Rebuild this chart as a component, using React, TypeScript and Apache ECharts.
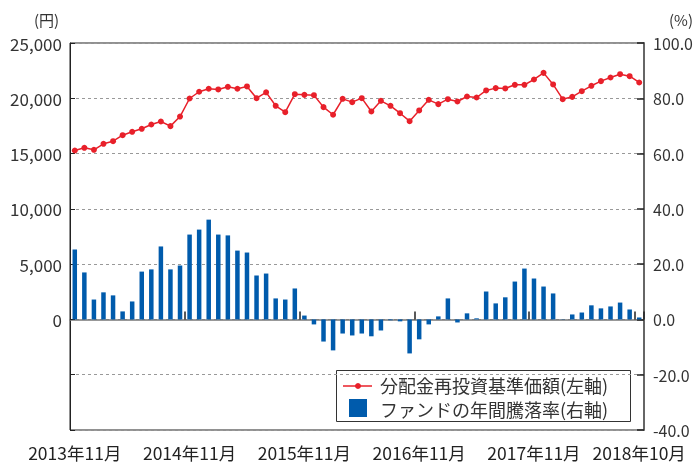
import React, { useEffect, useRef } from "react";
import * as echarts from "echarts";

const startYear = 2013;
const startMonth = 11;
const monthCount = 60;
const categories: string[] = [];
for (let i = 0; i < monthCount; i++) {
  const m0 = startMonth - 1 + i;
  const y = startYear + Math.floor(m0 / 12);
  const m = (m0 % 12) + 1;
  categories.push(`${y}年${m}月`);
}

const labelIndices = [0, 12, 24, 36, 48, 59];
const tickIndices = [12, 24, 36, 48, 59];

const navName = "分配金再投資基準価額(左軸)";
const rateName = "ファンドの年間騰落率(右軸)";

const navValues = [
  15280, 15520, 15340, 15880, 16120, 16660, 16970, 17240, 17630, 17900,
  17480, 18350, 19980, 20590, 20860, 20800, 21040, 20860, 21070, 20010,
  20540, 19320, 18740, 20370, 20310, 20280, 19200, 18510, 19950, 19650,
  20010, 18810, 19770, 19320, 18650, 17930, 18900, 19860, 19470, 19920,
  19710, 20160, 20070, 20710, 20920, 20890, 21220, 21220, 21700, 22300,
  21250, 19920, 20130, 20640, 21130, 21550, 21880, 22180, 22000, 21430,
];

const rateValues = [
  25.3, 17.0, 7.2, 9.8, 8.7, 2.9, 6.5, 17.3, 18.1, 26.4,
  18.1, 19.5, 30.7, 32.5, 36.1, 30.7, 30.4, 24.9, 24.2, 15.9,
  16.6, 7.6, 7.2, 11.2, 1.4, -1.8, -8.0, -11.2, -5.1, -5.8,
  -5.1, -6.1, -4.0, -0.3, -0.7, -12.3, -7.2, -1.8, 1.1, 7.6,
  -1.1, 2.2, 0.4, 10.1, 5.8, 8.0, 13.7, 18.4, 14.8, 11.9,
  9.4, 0.1, 1.8, 2.5, 5.1, 4.0, 4.7, 6.1, 3.6, 0.7,
];

const FONT = "'Noto Sans CJK JP', 'Noto Sans', sans-serif";
const RED = "#e8202a";
const BLUE = "#005bac";

export default function App() {
  const ref = useRef<HTMLDivElement>(null);
  useEffect(() => {
    if (!ref.current) return;
    const chart = echarts.init(ref.current, undefined, { renderer: "svg" });
    chart.setOption({
      animation: false,
      textStyle: { fontFamily: FONT },
      grid: {
        left: 70,
        right: 53,
        top: 43,
        bottom: 35,
        show: true,
        borderColor: "#222",
        borderWidth: 1,
        backgroundColor: "transparent",
      },
      graphic: [
        {
          type: "text",
          left: 34,
          top: 12,
          style: { text: "(円)", font: `15px ${FONT}`, fill: "#333" },
        },
        {
          type: "text",
          left: 669,
          top: 12,
          style: { text: "(%)", font: `15px ${FONT}`, fill: "#333" },
        },
        {
          type: "group",
          z: 100,
          children: [
            {
              type: "rect",
              shape: { x: 336.5, y: 370.5, width: 294, height: 51 },
              style: { fill: "#fff", stroke: "#333", lineWidth: 1 },
            },
            {
              type: "line",
              shape: { x1: 343, y1: 386, x2: 372, y2: 386 },
              style: { stroke: RED, lineWidth: 1.5 },
            },
            {
              type: "circle",
              shape: { cx: 358, cy: 386, r: 3 },
              style: { fill: RED },
            },
            {
              type: "text",
              x: 380,
              y: 385,
              style: {
                text: navName,
                font: `18px ${FONT}`,
                lineHeight: 19,
                fill: "#333",
                verticalAlign: "middle",
                align: "left",
              },
            },
            {
              type: "rect",
              shape: { x: 349, y: 399, width: 18, height: 18 },
              style: { fill: BLUE },
            },
            {
              type: "text",
              x: 380,
              y: 408.5,
              style: {
                text: rateName,
                font: `18px ${FONT}`,
                lineHeight: 19,
                fill: "#333",
                verticalAlign: "middle",
                align: "left",
              },
            },
          ],
        },
      ],
      xAxis: [
        {
          type: "category",
          data: categories,
          position: "bottom",
          boundaryGap: true,
          axisLine: { show: false, onZero: false },
          axisTick: { show: false },
          axisLabel: {
            interval: (i: number) => labelIndices.includes(i),
            fontFamily: FONT,
            fontSize: 17.5,
            lineHeight: 17,
            color: "#222",
            margin: 14,
          },
          splitLine: { show: false },
        },
        {
          type: "category",
          data: categories,
          position: "bottom",
          boundaryGap: true,
          axisLine: { show: true, onZero: true, lineStyle: { color: "#777", width: 1.5 } },
          axisTick: {
            show: true,
            inside: true,
            length: 8,
            interval: (i: number) => tickIndices.includes(i),
            lineStyle: { color: "#222", width: 1.5 },
          },
          axisLabel: { show: false },
          splitLine: { show: false },
        },
      ],
      yAxis: [
        {
          type: "value",
          min: -10000,
          max: 25000,
          interval: 5000,
          position: "left",
          axisLine: { show: true, lineStyle: { color: "#222" } },
          axisTick: { show: true, inside: true, length: 5, lineStyle: { color: "#222" } },
          axisLabel: {
            fontFamily: FONT,
            fontSize: 17,
            color: "#333",
            margin: 8,
            formatter: (v: number) => (v < 0 ? "" : v.toLocaleString("en-US")),
          },
          splitLine: {
            show: true,
            lineStyle: { color: "#999", type: [3, 3], width: 1 },
          },
        },
        {
          type: "value",
          min: -40,
          max: 100,
          interval: 20,
          position: "right",
          axisLine: { show: true, lineStyle: { color: "#666", width: 2 } },
          axisTick: { show: true, inside: true, length: 7, lineStyle: { color: "#222", width: 1.5 } },
          axisLabel: {
            fontFamily: FONT,
            fontSize: 16,
            lineHeight: 16,
            color: "#333",
            margin: 9,
            formatter: (v: number) => v.toFixed(1),
          },
          splitLine: { show: false },
        },
      ],
      series: [
        {
          name: rateName,
          type: "bar",
          xAxisIndex: 0,
          yAxisIndex: 1,
          data: rateValues,
          barWidth: 4.5,
          itemStyle: { color: BLUE },
          z: 2,
        },
        {
          name: navName,
          type: "line",
          xAxisIndex: 0,
          yAxisIndex: 0,
          data: navValues,
          symbol: "circle",
          symbolSize: 6,
          lineStyle: { color: RED, width: 1.5 },
          itemStyle: { color: RED },
          z: 3,
        },
      ],
    });
    return () => chart.dispose();
  }, []);
  return (
    <div
      ref={ref}
      style={{ position: "fixed", left: 0, top: 0, width: 697, height: 465 }}
    />
  );
}
